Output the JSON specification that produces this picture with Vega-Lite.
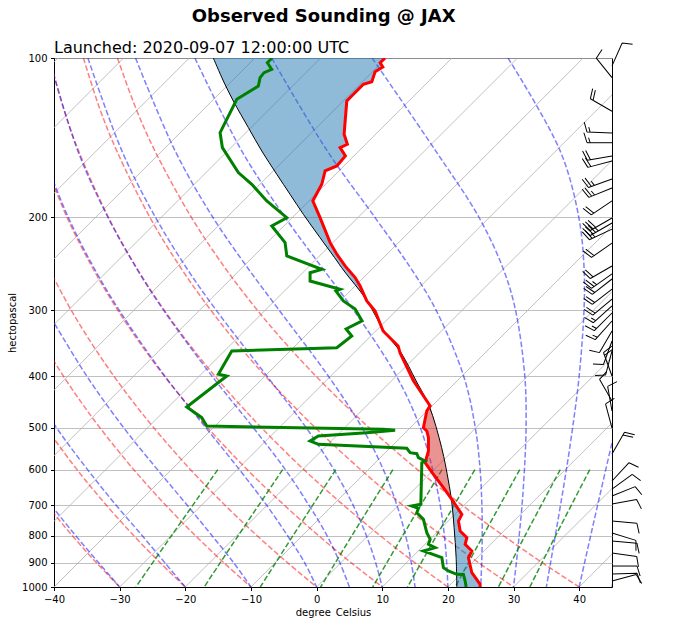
{
"$schema": "https://vega.github.io/schema/vega-lite/v6.json",
"padding": {"top": 7, "left": 7, "right": 0, "bottom": 0},
"title": {"text": "Observed Sounding @ JAX", "anchor": "middle", "fontSize": 18, "fontWeight": "bold", "font": "DejaVu Sans", "offset": 14, "dx": -2, "color": "black"},
"datasets": {
"iso": [
{"t":-120,"p":1000,"x":-120},{"t":-120,"p":100,"x":-39.39},
{"t":-110,"p":1000,"x":-110},{"t":-110,"p":100,"x":-29.39},
{"t":-100,"p":1000,"x":-100},{"t":-100,"p":100,"x":-19.39},
{"t":-90,"p":1000,"x":-90},{"t":-90,"p":100,"x":-9.39},
{"t":-80,"p":1000,"x":-80},{"t":-80,"p":100,"x":0.61},
{"t":-70,"p":1000,"x":-70},{"t":-70,"p":100,"x":10.61},
{"t":-60,"p":1000,"x":-60},{"t":-60,"p":100,"x":20.61},
{"t":-50,"p":1000,"x":-50},{"t":-50,"p":100,"x":30.61},
{"t":-40,"p":1000,"x":-40},{"t":-40,"p":100,"x":40.61},
{"t":-30,"p":1000,"x":-30},{"t":-30,"p":100,"x":50.61},
{"t":-20,"p":1000,"x":-20},{"t":-20,"p":100,"x":60.61},
{"t":-10,"p":1000,"x":-10},{"t":-10,"p":100,"x":70.61},
{"t":0,"p":1000,"x":0},{"t":0,"p":100,"x":80.61},
{"t":10,"p":1000,"x":10},{"t":10,"p":100,"x":90.61},
{"t":20,"p":1000,"x":20},{"t":20,"p":100,"x":100.61},
{"t":30,"p":1000,"x":30},{"t":30,"p":100,"x":110.61},
{"t":40,"p":1000,"x":40},{"t":40,"p":100,"x":120.61}
],
"dry": [
{"t":40,"p":1000,"x":40},{"t":40,"p":900,"x":34.41},{"t":40,"p":800,"x":28.47},{"t":40,"p":700,"x":22.15},{"t":40,"p":600,"x":15.36},{"t":40,"p":500,"x":8.01},{"t":40,"p":450,"x":4.09},{"t":40,"p":400,"x":-0.05},{"t":40,"p":350,"x":-4.4},{"t":40,"p":300,"x":-9.0},{"t":40,"p":250,"x":-13.88},{"t":40,"p":200,"x":-19.08},{"t":40,"p":150,"x":-24.61},{"t":40,"p":125,"x":-27.47},{"t":40,"p":100,"x":-30.34},
{"t":30,"p":1000,"x":30},{"t":30,"p":900,"x":24.7},{"t":30,"p":800,"x":19.09},{"t":30,"p":700,"x":13.12},{"t":30,"p":600,"x":6.71},{"t":30,"p":500,"x":-0.19},{"t":30,"p":450,"x":-3.88},{"t":30,"p":400,"x":-7.75},{"t":30,"p":350,"x":-11.81},{"t":30,"p":300,"x":-16.09},{"t":30,"p":250,"x":-20.62},{"t":30,"p":200,"x":-25.4},{"t":30,"p":150,"x":-30.42},{"t":30,"p":125,"x":-33.0},{"t":30,"p":100,"x":-35.52},
{"t":20,"p":1000,"x":20},{"t":20,"p":900,"x":15.0},{"t":20,"p":800,"x":9.7},{"t":20,"p":700,"x":4.09},{"t":20,"p":600,"x":-1.93},{"t":20,"p":500,"x":-8.4},{"t":20,"p":450,"x":-11.84},{"t":20,"p":400,"x":-15.44},{"t":20,"p":350,"x":-19.21},{"t":20,"p":300,"x":-23.18},{"t":20,"p":250,"x":-27.35},{"t":20,"p":200,"x":-31.71},{"t":20,"p":150,"x":-36.24},{"t":20,"p":125,"x":-38.51},{"t":20,"p":100,"x":-40.7},
{"t":10,"p":1000,"x":10},{"t":10,"p":900,"x":5.29},{"t":10,"p":800,"x":0.32},{"t":10,"p":700,"x":-4.94},{"t":10,"p":600,"x":-10.57},{"t":10,"p":500,"x":-16.6},{"t":10,"p":450,"x":-19.8},{"t":10,"p":400,"x":-23.14},{"t":10,"p":350,"x":-26.62},{"t":10,"p":300,"x":-30.27},{"t":10,"p":250,"x":-34.07},{"t":10,"p":200,"x":-38.03},{"t":10,"p":150,"x":-42.06},
{"t":0,"p":1000,"x":0},{"t":0,"p":900,"x":-4.41},{"t":0,"p":800,"x":-9.06},{"t":0,"p":700,"x":-13.97},{"t":0,"p":600,"x":-19.21},{"t":0,"p":500,"x":-24.8},{"t":0,"p":450,"x":-27.76},{"t":0,"p":400,"x":-30.84},{"t":0,"p":350,"x":-34.03},{"t":0,"p":300,"x":-37.36},{"t":0,"p":250,"x":-40.8},
{"t":-10,"p":1000,"x":-10},{"t":-10,"p":900,"x":-14.11},{"t":-10,"p":800,"x":-18.44},{"t":-10,"p":700,"x":-23.0},{"t":-10,"p":600,"x":-27.85},{"t":-10,"p":500,"x":-33.01},{"t":-10,"p":450,"x":-35.72},{"t":-10,"p":400,"x":-38.53},{"t":-10,"p":350,"x":-41.44},
{"t":-20,"p":1000,"x":-20},{"t":-20,"p":900,"x":-23.82},{"t":-20,"p":800,"x":-27.83},{"t":-20,"p":700,"x":-32.04},{"t":-20,"p":600,"x":-36.5},{"t":-20,"p":500,"x":-41.21},
{"t":-30,"p":1000,"x":-30},{"t":-30,"p":900,"x":-33.52},{"t":-30,"p":800,"x":-37.21},{"t":-30,"p":700,"x":-41.07}
],
"moist": [
{"t":45,"p":1000,"x":45},{"t":45,"p":900,"x":45.8},{"t":45,"p":800,"x":46.7},
{"t":40,"p":1000,"x":40},{"t":40,"p":900,"x":40.82},{"t":40,"p":800,"x":41.75},{"t":40,"p":700,"x":42.81},{"t":40,"p":600,"x":44.05},{"t":40,"p":500,"x":45.53},
{"t":35,"p":1000,"x":35},{"t":35,"p":900,"x":35.64},{"t":35,"p":800,"x":36.36},{"t":35,"p":700,"x":37.16},{"t":35,"p":600,"x":38.05},{"t":35,"p":500,"x":39.0},{"t":35,"p":400,"x":39.99},{"t":35,"p":300,"x":40.73},{"t":35,"p":250,"x":40.75},{"t":35,"p":200,"x":39.94},{"t":35,"p":150,"x":37.12},{"t":35,"p":100,"x":29.16},
{"t":30,"p":1000,"x":30},{"t":30,"p":900,"x":30.43},{"t":30,"p":800,"x":30.86},{"t":30,"p":700,"x":31.3},{"t":30,"p":600,"x":31.66},{"t":30,"p":500,"x":31.91},{"t":30,"p":400,"x":31.72},{"t":30,"p":300,"x":30.31},{"t":30,"p":250,"x":28.41},{"t":30,"p":200,"x":24.73},{"t":30,"p":150,"x":18.17},{"t":30,"p":100,"x":8.46},
{"t":25,"p":1000,"x":25},{"t":25,"p":900,"x":25.15},{"t":25,"p":800,"x":25.23},{"t":25,"p":700,"x":25.18},{"t":25,"p":600,"x":24.91},{"t":25,"p":500,"x":24.18},{"t":25,"p":400,"x":22.42},{"t":25,"p":300,"x":18.22},{"t":25,"p":250,"x":14.38},{"t":25,"p":200,"x":8.87},{"t":25,"p":150,"x":1.65},{"t":25,"p":100,"x":-6.84},
{"t":20,"p":1000,"x":20},{"t":20,"p":900,"x":19.82},{"t":20,"p":800,"x":19.47},{"t":20,"p":700,"x":18.83},{"t":20,"p":600,"x":17.69},{"t":20,"p":500,"x":15.8},{"t":20,"p":400,"x":12.2},{"t":20,"p":300,"x":5.67},{"t":20,"p":250,"x":0.93},{"t":20,"p":200,"x":-4.81},{"t":20,"p":150,"x":-11.38},{"t":20,"p":100,"x":-18.54},
{"t":15,"p":1000,"x":15},{"t":15,"p":900,"x":14.43},{"t":15,"p":800,"x":13.57},{"t":15,"p":700,"x":12.23},{"t":15,"p":600,"x":10.17},{"t":15,"p":500,"x":6.94},{"t":15,"p":400,"x":1.83},{"t":15,"p":300,"x":-5.68},{"t":15,"p":250,"x":-10.43},{"t":15,"p":200,"x":-15.81},{"t":15,"p":150,"x":-21.53},{"t":15,"p":100,"x":-27.58},
{"t":10,"p":1000,"x":10},{"t":10,"p":900,"x":9.0},{"t":10,"p":800,"x":7.59},{"t":10,"p":700,"x":5.56},{"t":10,"p":600,"x":2.64},{"t":10,"p":500,"x":-1.58},{"t":10,"p":400,"x":-7.52},{"t":10,"p":300,"x":-15.27},{"t":10,"p":250,"x":-19.76},{"t":10,"p":200,"x":-24.55},{"t":10,"p":150,"x":-29.64},{"t":10,"p":100,"x":-34.84},
{"t":5,"p":1000,"x":5},{"t":5,"p":900,"x":3.55},{"t":5,"p":800,"x":1.6},{"t":5,"p":700,"x":-1.18},{"t":5,"p":600,"x":-4.76},{"t":5,"p":500,"x":-9.63},{"t":5,"p":400,"x":-15.89},{"t":5,"p":300,"x":-23.29},{"t":5,"p":250,"x":-27.42},{"t":5,"p":200,"x":-31.79},{"t":5,"p":150,"x":-36.36},{"t":5,"p":100,"x":-40.77},
{"t":0,"p":1000,"x":0},{"t":0,"p":900,"x":-1.81},{"t":0,"p":800,"x":-4.42},{"t":0,"p":700,"x":-7.63},{"t":0,"p":600,"x":-11.75},{"t":0,"p":500,"x":-16.87},{"t":0,"p":400,"x":-23.07},{"t":0,"p":300,"x":-30.05},{"t":0,"p":250,"x":-33.86},{"t":0,"p":200,"x":-37.83},{"t":0,"p":150,"x":-41.87},
{"t":-10,"p":1000,"x":-10},{"t":-10,"p":900,"x":-12.62},{"t":-10,"p":800,"x":-15.92},{"t":-10,"p":700,"x":-19.73},{"t":-10,"p":600,"x":-24.24},{"t":-10,"p":500,"x":-29.38},{"t":-10,"p":400,"x":-34.97},{"t":-10,"p":300,"x":-41.1},
{"t":-20,"p":1000,"x":-20},{"t":-20,"p":900,"x":-23.11},{"t":-20,"p":800,"x":-26.55},{"t":-20,"p":700,"x":-30.56},{"t":-20,"p":600,"x":-34.89},{"t":-20,"p":500,"x":-39.62},{"t":-20,"p":400,"x":-44.7},
{"t":-30,"p":1000,"x":-30},{"t":-30,"p":900,"x":-33.19},{"t":-30,"p":800,"x":-36.69},{"t":-30,"p":700,"x":-40.46}
],
"mix": [
{"w":0.4,"p":1000,"x":-27.53},{"w":0.4,"p":800,"x":-22.11},{"w":0.4,"p":600,"x":-15.05},
{"w":1,"p":1000,"x":-17.13},{"w":1,"p":800,"x":-11.94},{"w":1,"p":600,"x":-5.17},
{"w":2,"p":1000,"x":-8.58},{"w":2,"p":800,"x":-3.6},{"w":2,"p":600,"x":2.92},
{"w":4,"p":1000,"x":0.61},{"w":4,"p":800,"x":5.37},{"w":4,"p":600,"x":11.62},
{"w":7,"p":1000,"x":8.55},{"w":7,"p":800,"x":13.11},{"w":7,"p":600,"x":19.11},
{"w":10,"p":1000,"x":13.85},{"w":10,"p":800,"x":18.27},{"w":10,"p":600,"x":24.11},
{"w":16,"p":1000,"x":21.13},{"w":16,"p":800,"x":25.36},{"w":16,"p":600,"x":30.95},
{"w":24,"p":1000,"x":27.7},{"w":24,"p":800,"x":31.75},{"w":24,"p":600,"x":37.12},
{"w":32,"p":1000,"x":32.49},{"w":32,"p":800,"x":36.41},{"w":32,"p":600,"x":41.62}
],
"cin": [
{"seg":1,"p":100,"a":10.44,"b":-15.73},{"seg":1,"p":102.07,"a":9.68,"b":-15.42},{"seg":1,"p":103.99,"a":10.09,"b":-15.13},{"seg":1,"p":106.14,"a":8.91,"b":-14.81},{"seg":1,"p":110.86,"a":8.41,"b":-14.16},{"seg":1,"p":112.12,"a":7.13,"b":-13.96},{"seg":1,"p":120.6,"a":4.6,"b":-12.68},{"seg":1,"p":139.37,"a":4.19,"b":-9.81},{"seg":1,"p":145.56,"a":4.69,"b":-8.94},{"seg":1,"p":147.73,"a":3.58,"b":-8.64},{"seg":1,"p":153.17,"a":4.39,"b":-7.86},{"seg":1,"p":159.99,"a":3.08,"b":-6.87},{"seg":1,"p":163.5,"a":1.3,"b":-6.39},{"seg":1,"p":173.3,"a":0.79,"b":-5.06},{"seg":1,"p":186.3,"a":-0.58,"b":-3.35},{"seg":1,"p":200.4,"a":0.53,"b":-1.65},{"seg":1,"p":223.4,"a":2.06,"b":1.08},{"seg":1,"p":234.9,"a":3.08,"b":2.36},{"seg":1,"p":247.2,"a":4.34,"b":3.64},{"seg":1,"p":260.1,"a":5.87,"b":4.92},{"seg":1,"p":269.8,"a":6.63,"b":5.97},{"seg":1,"p":287.9,"a":7.65,"b":7.7},
{"seg":3,"p":682.7,"a":20.5,"b":20.5},{"seg":3,"p":697.7,"a":21.1,"b":20.62},{"seg":3,"p":728.8,"a":22.13,"b":20.75},{"seg":3,"p":750.3,"a":21.61,"b":20.86},{"seg":3,"p":783.7,"a":21.87,"b":21.0},{"seg":3,"p":806.9,"a":22.89,"b":21.06},{"seg":3,"p":830.2,"a":22.63,"b":21.14},{"seg":3,"p":855.0,"a":23.65,"b":21.2},{"seg":3,"p":880.3,"a":23.13,"b":21.26},{"seg":3,"p":939.7,"a":23.65,"b":21.32},{"seg":3,"p":988.3,"a":24.91,"b":21.36},{"seg":3,"p":1000,"a":24.91,"b":21.36}
],
"cape": [
{"i":1,"p":350.2,"x":12.2},{"i":2,"p":361.0,"x":12.6},{"i":3,"p":407.7,"x":14.75},{"i":4,"p":454.7,"x":17.3},{"i":5,"p":464.7,"x":16.79},{"i":6,"p":499.9,"x":16.27},{"i":7,"p":507.1,"x":16.79},{"i":8,"p":522.1,"x":17.04},{"i":9,"p":553.3,"x":17.04},{"i":10,"p":582.2,"x":16.53},{"i":11,"p":612.3,"x":17.8},{"i":12,"p":649.1,"x":19.32},{"i":13,"p":682.7,"x":20.5},
{"i":14,"p":630.3,"x":20.08},{"i":15,"p":545.3,"x":19.05},{"i":16,"p":454.7,"x":17.3},{"i":17,"p":407.7,"x":15.16},{"i":18,"p":361.0,"x":12.88},{"i":19,"p":350.2,"x":12.25}
],
"parcel": [
{"p":100,"x":-15.73},{"p":110.5,"x":-14.2},{"p":120.6,"x":-12.68},{"p":135.4,"x":-10.39},{"p":149.9,"x":-8.35},{"p":165.9,"x":-6.06},{"p":181.0,"x":-4.04},{"p":197.5,"x":-2.01},{"p":218.6,"x":0.53},{"p":238.4,"x":2.74},{"p":252.7,"x":4.19},{"p":285.8,"x":7.54},{"p":328.1,"x":10.29},{"p":361.0,"x":12.88},{"p":407.7,"x":15.16},{"p":454.7,"x":17.14},{"p":545.3,"x":19.05},{"p":630.3,"x":20.08},{"p":692.9,"x":20.6},{"p":772.5,"x":20.95},{"p":880.3,"x":21.26},{"p":1000,"x":21.36}
],
"temp": [
{"p":100,"x":10.44},{"p":102.07,"x":9.68},{"p":103.99,"x":10.09},{"p":106.14,"x":8.91},{"p":110.86,"x":8.41},{"p":112.12,"x":7.13},{"p":120.6,"x":4.6},{"p":139.37,"x":4.19},{"p":145.56,"x":4.69},{"p":147.73,"x":3.58},{"p":153.17,"x":4.39},{"p":159.99,"x":3.08},{"p":163.5,"x":1.3},{"p":173.3,"x":0.79},{"p":186.3,"x":-0.58},{"p":200.4,"x":0.53},{"p":223.4,"x":2.06},{"p":234.9,"x":3.08},{"p":247.2,"x":4.34},{"p":260.1,"x":5.87},{"p":269.8,"x":6.63},{"p":287.9,"x":7.65},{"p":300.7,"x":8.91},{"p":328.1,"x":10.13},{"p":350.2,"x":12.42},{"p":361.0,"x":12.72},{"p":407.7,"x":14.75},{"p":454.7,"x":17.3},{"p":464.7,"x":16.79},{"p":499.9,"x":16.27},{"p":507.1,"x":16.79},{"p":522.1,"x":17.04},{"p":553.3,"x":17.04},{"p":582.2,"x":16.53},{"p":612.3,"x":17.8},{"p":649.1,"x":19.32},{"p":682.7,"x":20.6},{"p":697.7,"x":21.1},{"p":728.8,"x":22.13},{"p":750.3,"x":21.61},{"p":783.7,"x":21.87},{"p":806.9,"x":22.89},{"p":830.2,"x":22.63},{"p":855.0,"x":23.65},{"p":880.3,"x":23.13},{"p":939.7,"x":23.65},{"p":988.3,"x":24.91},{"p":1000,"x":24.91}
],
"dew": [
{"p":100,"x":-6.78},{"p":102.07,"x":-7.5},{"p":105.05,"x":-6.83},{"p":106.6,"x":-8.0},{"p":108.94,"x":-8.61},{"p":112.95,"x":-8.87},{"p":119.7,"x":-12.16},{"p":138.4,"x":-14.7},{"p":147.7,"x":-14.35},{"p":164.7,"x":-11.92},{"p":173.3,"x":-9.87},{"p":186.3,"x":-7.59},{"p":200.4,"x":-4.54},{"p":207.8,"x":-6.83},{"p":223.4,"x":-4.8},{"p":236.7,"x":-4.54},{"p":250.9,"x":0.79},{"p":254.6,"x":-0.99},{"p":264.0,"x":-0.99},{"p":273.7,"x":3.58},{"p":275.7,"x":2.93},{"p":287.9,"x":4.08},{"p":298.1,"x":5.87},{"p":314.1,"x":6.93},{"p":325.3,"x":4.5},{"p":335.4,"x":5.36},{"p":352.8,"x":3.08},{"p":357.9,"x":-12.92},{"p":396.2,"x":-14.96},{"p":399.1,"x":-13.68},{"p":456.7,"x":-19.78},{"p":478.5,"x":-17.49},{"p":496.2,"x":-16.73},{"p":503.4,"x":10.18},{"p":505.6,"x":11.96},{"p":510.9,"x":7.65},{"p":518.3,"x":0.27},{"p":529.7,"x":-0.99},{"p":537.3,"x":0.27},{"p":546.8,"x":13.74},{"p":557.3,"x":14.25},{"p":559.8,"x":15.27},{"p":569.6,"x":15.51},{"p":577.9,"x":16.53},{"p":582.2,"x":16.03},{"p":697.7,"x":15.88},{"p":702.9,"x":14.51},{"p":710.0,"x":15.51},{"p":723.8,"x":15.27},{"p":744.8,"x":16.27},{"p":789.5,"x":16.79},{"p":812.6,"x":17.3},{"p":830.2,"x":17.04},{"p":842.7,"x":18.06},{"p":855.0,"x":16.27},{"p":880.3,"x":19.08},{"p":919.4,"x":19.32},{"p":932.7,"x":20.08},{"p":946.2,"x":21.36},{"p":947.0,"x":22.37},{"p":974.2,"x":22.63},{"p":1000,"x":22.78}
],
"barbs": [
{"p":103.5,"dir":24,"spd":10},{"p":108.9,"dir":321,"spd":10},{"p":126.1,"dir":300,"spd":20},{"p":138.6,"dir":272,"spd":15},{"p":144.6,"dir":270,"spd":15},{"p":153.2,"dir":260,"spd":20},{"p":156.5,"dir":255,"spd":20},{"p":169.3,"dir":250,"spd":25},{"p":176.1,"dir":248,"spd":25},{"p":186.3,"dir":236,"spd":20},{"p":200.7,"dir":240,"spd":30},{"p":205.1,"dir":240,"spd":35},{"p":210.6,"dir":245,"spd":25},{"p":223.8,"dir":235,"spd":20},{"p":247.3,"dir":240,"spd":20},{"p":256.0,"dir":235,"spd":25},{"p":261.7,"dir":232,"spd":20},{"p":273.4,"dir":232,"spd":20},{"p":285.5,"dir":230,"spd":20},{"p":294.3,"dir":228,"spd":15},{"p":303.4,"dir":225,"spd":15},{"p":314.2,"dir":222,"spd":15},{"p":328.1,"dir":210,"spd":10},{"p":342.8,"dir":200,"spd":10},{"p":357.9,"dir":195,"spd":10},{"p":399.2,"dir":340,"spd":20},{"p":445.0,"dir":330,"spd":10},{"p":464.9,"dir":350,"spd":10},{"p":500.7,"dir":345,"spd":10},{"p":560.5,"dir":30,"spd":20},{"p":630.4,"dir":43,"spd":10},{"p":652.9,"dir":54,"spd":10},{"p":672.9,"dir":68,"spd":10},{"p":696.5,"dir":80,"spd":10},{"p":750.5,"dir":95,"spd":10},{"p":790.8,"dir":107,"spd":10},{"p":818.7,"dir":95,"spd":10},{"p":862.8,"dir":98,"spd":10},{"p":912.8,"dir":90,"spd":10},{"p":945.0,"dir":88,"spd":10},{"p":974.3,"dir":75,"spd":10}
]
},
"vconcat": [
{
"width": 558,
"height": 529,
"title": {"text": "Launched: 2020-09-07 12:00:00 UTC", "anchor": "start", "frame": "group", "fontSize": 16, "fontWeight": "normal", "font": "DejaVu Sans", "offset": -15, "color": "black"},
"encoding": {
"y": {"field": "p", "type": "quantitative", "scale": {"type": "log", "domain": [100, 1000], "reverse": true, "nice": false}, "axis": {"values": [100,200,300,400,500,600,700,800,900,1000], "format": "d", "title": "hectopascal", "grid": true, "gridColor": "#b0b0b0", "gridWidth": 0.8, "titlePadding": 4}}
},
"layer": [
{"data": {"name": "iso"}, "mark": {"type": "line", "clip": true, "color": "#b0b0b0", "strokeWidth": 0.8},
 "encoding": {"x": {"field": "x", "type": "quantitative", "scale": {"domain": [-40, 45], "nice": false, "zero": false}, "axis": {"values": [-40,-30,-20,-10,0,10,20,30,40], "title": "degree_Celsius", "grid": false, "labelFlush": false}}, "detail": {"field": "t"}}},
{"data": {"name": "dry"}, "mark": {"type": "line", "clip": true, "color": "#ff0000", "strokeOpacity": 0.5, "strokeWidth": 1.5, "strokeDash": [5.5, 2.4], "interpolate": "catmull-rom"},
 "encoding": {"x": {"field": "x", "type": "quantitative"}, "detail": {"field": "t"}, "order": {"field": "p", "type": "quantitative"}}},
{"data": {"name": "moist"}, "mark": {"type": "line", "clip": true, "color": "#0000ff", "strokeOpacity": 0.5, "strokeWidth": 1.5, "strokeDash": [5.5, 2.4], "interpolate": "catmull-rom"},
 "encoding": {"x": {"field": "x", "type": "quantitative"}, "detail": {"field": "t"}, "order": {"field": "p", "type": "quantitative"}}},
{"data": {"name": "mix"}, "mark": {"type": "line", "clip": true, "color": "#008000", "strokeOpacity": 0.8, "strokeWidth": 1.5, "strokeDash": [5.5, 2.4], "interpolate": "catmull-rom"},
 "encoding": {"x": {"field": "x", "type": "quantitative"}, "detail": {"field": "w"}, "order": {"field": "p", "type": "quantitative"}}},
{"data": {"name": "cin"}, "mark": {"type": "area", "orient": "horizontal", "color": "#1f77b4", "opacity": 0.5, "clip": true},
 "encoding": {"x": {"field": "a", "type": "quantitative", "stack": null}, "x2": {"field": "b"}, "detail": {"field": "seg"}}},
{"data": {"name": "cape"}, "mark": {"type": "line", "clip": true, "fill": "#d62728", "fillOpacity": 0.5, "stroke": "transparent", "strokeWidth": 0},
 "encoding": {"x": {"field": "x", "type": "quantitative"}, "order": {"field": "i", "type": "quantitative"}}},
{"data": {"name": "parcel"}, "mark": {"type": "line", "clip": true, "color": "black", "strokeWidth": 1, "interpolate": "catmull-rom"},
 "encoding": {"x": {"field": "x", "type": "quantitative"}, "order": {"field": "p", "type": "quantitative"}}},
{"data": {"name": "temp"}, "mark": {"type": "line", "clip": true, "color": "#ff0000", "strokeWidth": 3},
 "encoding": {"x": {"field": "x", "type": "quantitative"}, "order": {"field": "p", "type": "quantitative"}}},
{"data": {"name": "dew"}, "mark": {"type": "line", "clip": true, "color": "#008000", "strokeWidth": 3},
 "encoding": {"x": {"field": "x", "type": "quantitative"}, "order": {"field": "p", "type": "quantitative"}}},
{"data": {"name": "barbs"}, "mark": {"type": "point", "filled": false, "stroke": "black", "strokeWidth": 1, "opacity": 1, "size": 2500},
 "encoding": {"x": {"datum": 45}, "angle": {"field": "dir", "type": "quantitative", "scale": null},
  "shape": {"field": "spd", "type": "nominal", "legend": null, "scale": {"domain": [5,10,15,20,25,30,35,40],
   "range": ["M0,0L0,-1M0,-0.8125L0.2,-0.875",
             "M0,0L0,-1M0,-1L0.4,-1.125",
             "M0,0L0,-1M0,-1L0.4,-1.125M0,-0.875L0.2,-0.9375",
             "M0,0L0,-1M0,-1L0.4,-1.125M0,-0.875L0.4,-1",
             "M0,0L0,-1M0,-1L0.4,-1.125M0,-0.875L0.4,-1M0,-0.75L0.2,-0.8125",
             "M0,0L0,-1M0,-1L0.4,-1.125M0,-0.875L0.4,-1M0,-0.75L0.4,-0.875",
             "M0,0L0,-1M0,-1L0.4,-1.125M0,-0.875L0.4,-1M0,-0.75L0.4,-0.875M0,-0.625L0.2,-0.6875",
             "M0,0L0,-1M0,-1L0.4,-1.125M0,-0.875L0.4,-1M0,-0.75L0.4,-0.875M0,-0.625L0.4,-0.75"]}}}}
]
}
],
"config": {
"view": {"stroke": "black", "strokeWidth": 1},
"concat": {"spacing": 0},
"axis": {"labelFont": "DejaVu Sans", "titleFont": "DejaVu Sans", "labelFontSize": 10, "titleFontSize": 10, "titleFontWeight": "normal", "labelColor": "black", "titleColor": "black", "domainColor": "black", "tickColor": "black", "tickSize": 3.5, "labelPadding": 3.5, "titlePadding": 3.5}
}
}
